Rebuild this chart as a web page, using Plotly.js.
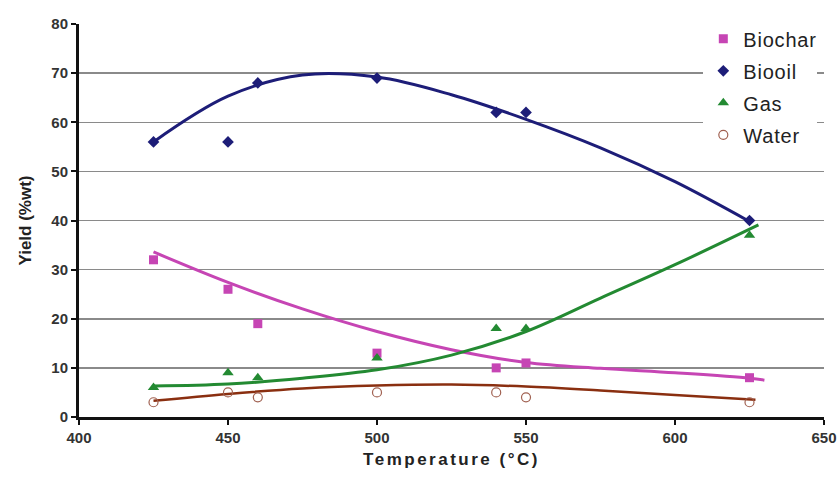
<!DOCTYPE html>
<html>
<head>
<meta charset="utf-8">
<script src="https://cdn.plot.ly/plotly-3.0.1.min.js"></script>
<style>
html,body{margin:0;padding:0;background:#fff;}
#chart{width:840px;height:484px;}
#chart .xtitle{letter-spacing:2.5px;}
#chart .legendtext{letter-spacing:0.8px;}
</style>
</head>
<body>
<div id="chart"></div>
<script>
// Measured points
const temps = [425, 450, 460, 500, 540, 550, 625];
const biochar = [32, 26, 19, 13, 10, 11, 8];
const biooil = [56, 56, 68, 69, 62, 62, 40];
const gas = [6, 9, 8, 12, 18, 18, 37];
const water = [3, 5, 4, 5, 5, 4, 3];

// Trend curves
const biocharFitX = [425, 450, 475, 500, 525, 550, 575, 600, 625, 630];
const biocharFitY = [33.6, 27.4, 22.0, 17.4, 13.7, 11.1, 9.9, 9.0, 7.9, 7.5];
const biooilFitX = [425, 450, 475, 500, 525, 550, 575, 600, 625];
const biooilFitY = [56.0, 65.3, 69.6, 69.2, 65.6, 60.6, 54.8, 47.9, 39.8];
const gasFitX = [425, 450, 475, 500, 525, 550, 575, 600, 628];
const gasFitY = [6.3, 6.7, 7.9, 9.6, 12.6, 17.4, 24.2, 31.0, 39.1];
const waterFitX = [425, 450, 475, 500, 525, 550, 575, 600, 627];
const waterFitY = [3.3, 4.7, 5.8, 6.4, 6.6, 6.2, 5.4, 4.5, 3.5];

const cChar = '#c645b4', cOil = '#1d1d78', cGas = '#238a32', cWater = '#8a2f10';

const traces = [
  {x: biocharFitX, y: biocharFitY, mode: 'lines', line: {color: cChar, width: 3, shape: 'spline'}, showlegend: false, hoverinfo: 'skip'},
  {x: biooilFitX, y: biooilFitY, mode: 'lines', line: {color: cOil, width: 3, shape: 'spline'}, showlegend: false, hoverinfo: 'skip'},
  {x: gasFitX, y: gasFitY, mode: 'lines', line: {color: cGas, width: 3, shape: 'spline'}, showlegend: false, hoverinfo: 'skip'},
  {x: waterFitX, y: waterFitY, mode: 'lines', line: {color: cWater, width: 2.5, shape: 'spline'}, showlegend: false, hoverinfo: 'skip'},
  {x: temps, y: biochar, name: 'Biochar', legendgroup: 'a', mode: 'markers', marker: {symbol: 'square', size: 9, color: cChar}},
  {x: temps, y: biooil, name: 'Biooil', legendgroup: 'b', mode: 'markers', marker: {symbol: 'diamond', size: 9, color: cOil}},
  {x: temps, y: gas, name: 'Gas', legendgroup: 'c', mode: 'markers', marker: {symbol: 'triangle-up', size: 10, color: cGas}},
  {x: temps, y: water, name: 'Water', legendgroup: 'd', mode: 'markers', marker: {symbol: 'circle-open', size: 9, color: '#a06050', line: {width: 1.2}}}
];

const tickFont = {size: 15, color: '#333', family: 'Liberation Sans, Arial, sans-serif', weight: 'bold'};

const layout = {
  width: 840, height: 484,
  margin: {l: 79, r: 16, t: 24, b: 67},
  paper_bgcolor: '#fff', plot_bgcolor: '#fff',
  font: {family: 'Liberation Sans, Arial, sans-serif', color: '#222'},
  xaxis: {
    range: [400, 650], tickvals: [400, 450, 500, 550, 600, 650],
    showgrid: false, zeroline: false,
    showline: true, linecolor: '#111', linewidth: 3,
    ticks: 'outside', ticklen: 5, tickwidth: 2, tickcolor: '#111',
    tickfont: tickFont,
    title: {text: '<b>Temperature (°C)</b>', font: {size: 17, color: '#222'}, standoff: 9}
  },
  yaxis: {
    range: [0, 80], tickvals: [0, 10, 20, 30, 40, 50, 60, 70, 80],
    showgrid: true, gridcolor: '#8a8a8a', gridwidth: 1.5, zeroline: false,
    showline: true, linecolor: '#111', linewidth: 3,
    ticks: 'outside', ticklen: 5, tickwidth: 2, tickcolor: '#111',
    tickfont: tickFont,
    title: {text: '<b>Yield (%wt)</b>', font: {size: 17, color: '#222'}, standoff: 16}
  },
  legend: {
    x: 0.838, y: 1.012, xanchor: 'left', yanchor: 'top',
    bgcolor: '#fff', borderwidth: 0,
    font: {size: 20, color: '#222', family: 'Liberation Sans, Arial, sans-serif'},
    itemwidth: 30, tracegroupgap: 3, traceorder: 'grouped'
  },
  showlegend: true
};

Plotly.newPlot('chart', traces, layout, {displayModeBar: false, staticPlot: true});
</script>
</body>
</html>
